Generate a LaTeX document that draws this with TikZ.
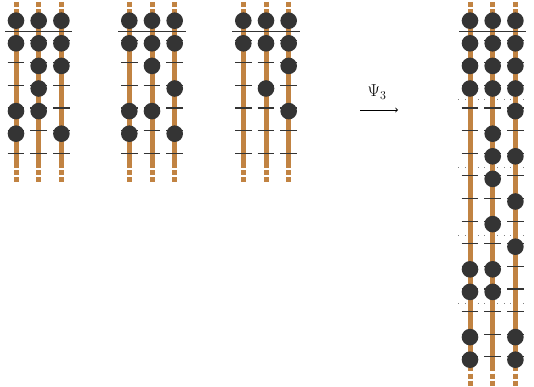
\documentclass[tikz,border=0pt]{standalone}
\usepackage{tikz}
\usetikzlibrary{positioning,calc}
\definecolor{rodbrown}{RGB}{193,131,66}
\definecolor{beadgray}{RGB}{52,52,52}

\begin{document}
\begin{tikzpicture}[x=1pt,y=-1pt,
  rod/.style={rodbrown,line width=5pt},
  tick/.style={beadgray,line width=1.2pt},
  bar/.style={beadgray,line width=1.2pt},
  sep/.style={gray,line width=1.1pt,dash pattern=on 1.1pt off 5.4pt},
  bead/.style={fill=beadgray}]

% Figure parameters (all lengths in pixels of the picture)
\def \yo{20.7} % height of the top row (the one above the bar)
\def \ry{22.6} % distance between two rows
\def \rx{22.7} % distance between two rods
\def \br{8.3}  % radius of a bead
\def \yb{31.7} % height of the bar

\useasboundingbox (0,0) rectangle (534,387);

% One rod: x position, number of rows below the bar, rows holding a bead
\def\abrod#1#2#3{%
  \pgfmathsetmacro\yend{\yo+#2*\ry}
  \draw[rod] (#1,9.3) -- (#1,{\yend+11.5})
             (#1,2)   -- (#1,7)
             (#1,{\yend+14}) -- (#1,{\yend+19})
             (#1,{\yend+21}) -- (#1,{\yend+26});
  \foreach \k in {1,...,#2}
    \draw[tick] ({#1-\br},{\yo+\k*\ry-3}) -- ({#1+\br},{\yo+\k*\ry-3});
  \foreach \k in {#3}
    \fill[bead] (#1,{\yo+\k*\ry}) circle [radius=\br];
}

% One abacus: x of its first rod, number of rows, beads of the three rods
\def\abacus#1#2#3#4#5{%
  \abrod{#1}{#2}{#3}
  \abrod{#1+\rx}{#2}{#4}
  \abrod{#1+2*\rx}{#2}{#5}
  \draw[bar] ({#1-11},\yb) -- ({#1+2*\rx+11},\yb);
}

% The three small abaci
\abacus{16}{6}{0,1,4,5}{0,1,2,3,4}{0,1,2,5}
\abacus{129.3}{6}{0,1,4,5}{0,1,2,4}{0,1,3,5}
\abacus{243.3}{6}{0,1}{0,1,3}{0,1,2,4}

% The big abacus, cut in blocks of three rows (cuts drawn first, behind the rods)
\foreach \j in {3,6,9,12}
  \draw[sep] (458.3,{\yo+(\j+0.5)*\ry}) -- (525,{\yo+(\j+0.5)*\ry});
\abacus{470}{15}{0,1,2,3,11,12,14,15}{0,1,2,3,5,6,7,9,11,12}%
               {0,1,2,3,4,6,8,10,14,15}

% The map between them
\coordinate (psiS) at (360,110);
\coordinate (psiE) at (398,110);
\draw[->,line width=0.9pt] (psiS) -- (psiE);
\node[anchor=base,inner sep=0pt,font=\fontsize{17}{20}\selectfont] (psi)
  at (377,97) {$\Psi_3$};
\end{tikzpicture}
\end{document}
